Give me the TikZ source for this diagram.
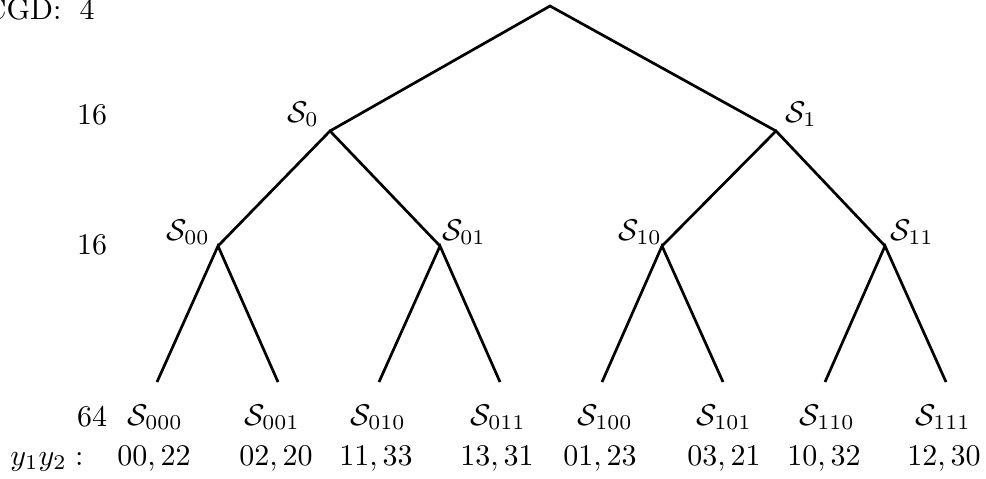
\documentclass[tikz,border=0pt]{standalone}
\begin{document}
\begin{tikzpicture}[x=0.3333pt,y=-0.3333pt,
  edge/.style={line width=0.9pt},
  lab/.style={inner sep=0pt,anchor=base},
  num/.style={inner sep=0pt,anchor=base}]
\useasboundingbox (0,0) rectangle (986,478);
% tree points
\coordinate (r) at (550,6);
\coordinate (n0) at (330,131);
\coordinate (n1) at (776,131);
\coordinate (n00) at (218,246);
\coordinate (n01) at (440,246);
\coordinate (n10) at (662,246);
\coordinate (n11) at (885,246);
\coordinate (l000) at (157,382);
\coordinate (l001) at (278,382);
\coordinate (l010) at (379,382);
\coordinate (l011) at (500,382);
\coordinate (l100) at (602,382);
\coordinate (l101) at (723,382);
\coordinate (l110) at (825,382);
\coordinate (l111) at (946,382);
% edges
\draw[edge] (n0) -- (r) -- (n1);
\draw[edge] (n00) -- (n0) -- (n01);
\draw[edge] (n10) -- (n1) -- (n11);
\draw[edge] (l000) -- (n00) -- (l001);
\draw[edge] (l010) -- (n01) -- (l011);
\draw[edge] (l100) -- (n10) -- (l101);
\draw[edge] (l110) -- (n11) -- (l111);
% internal labels
\node[lab] (s0) at (303,122) {$\mathcal{S}_0$};
\node[lab] (s1) at (801,122) {$\mathcal{S}_1$};
\node[lab] (s00) at (188,240) {$\mathcal{S}_{00}$};
\node[lab] (s01) at (464,240) {$\mathcal{S}_{01}$};
\node[lab] (s10) at (640,240) {$\mathcal{S}_{10}$};
\node[lab] (s11) at (912,240) {$\mathcal{S}_{11}$};
% leaf labels
\node[lab] (s000) at (155,425) {$\mathcal{S}_{000}$};
\node[lab] (s001) at (272,425) {$\mathcal{S}_{001}$};
\node[lab] (s010) at (378,425) {$\mathcal{S}_{010}$};
\node[lab] (s011) at (498,425) {$\mathcal{S}_{011}$};
\node[lab] (s100) at (605,425) {$\mathcal{S}_{100}$};
\node[lab] (s101) at (724,425) {$\mathcal{S}_{101}$};
\node[lab] (s110) at (827,425) {$\mathcal{S}_{110}$};
\node[lab] (s111) at (943,425) {$\mathcal{S}_{111}$};
% values
\node[num] (v000) at (154,465) {$00,22$};
\node[num] (v001) at (276,465) {$02,20$};
\node[num] (v010) at (376,465) {$11,33$};
\node[num] (v011) at (497,465) {$13,31$};
\node[num] (v100) at (600,465) {$01,23$};
\node[num] (v101) at (724,465) {$03,21$};
\node[num] (v110) at (824,465) {$10,32$};
\node[num] (v111) at (944,465) {$12,30$};
% left column
\node[inner sep=0pt,anchor=base east] (cgd) at (62,20) {CGD:};
\node[num] (c4) at (87,20) {4};
\node[num] (c16a) at (92,125) {16};
\node[num] (c16b) at (92,254) {16};
\node[num] (c64) at (92,426) {64};
\node[inner sep=0pt,anchor=base east] (yy) at (84,465) {$y_1y_2:$};
\end{tikzpicture}
\end{document}
